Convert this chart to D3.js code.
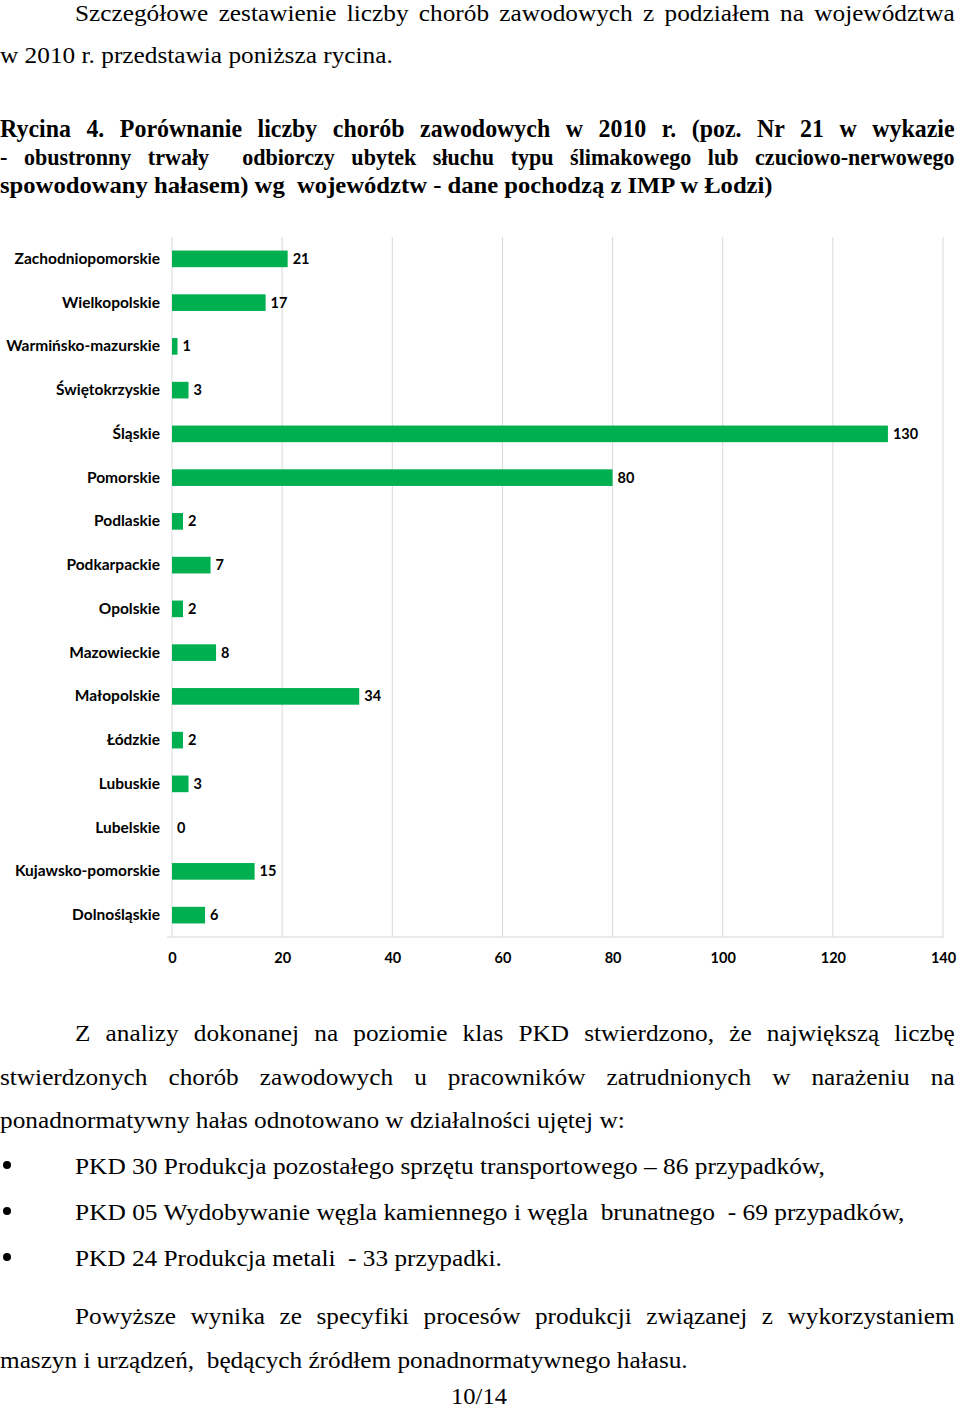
<!DOCTYPE html>
<html><head><meta charset="utf-8">
<script src="https://cdn.jsdelivr.net/npm/d3@7"></script>
<style>
html,body{margin:0;padding:0;background:#fff;}
svg{display:block;}
</style></head>
<body>
<svg id="page" width="960" height="1410"></svg>
<script>
// ---- data ----
const categories = ["Zachodniopomorskie","Wielkopolskie","Warmińsko-mazurskie","Świętokrzyskie","Śląskie","Pomorskie","Podlaskie","Podkarpackie","Opolskie","Mazowieckie","Małopolskie","Łódzkie","Lubuskie","Lubelskie","Kujawsko-pomorskie","Dolnośląskie"];
const values = [21,17,1,3,130,80,2,7,2,8,34,2,3,0,15,6];
const tickValues = [0,20,40,60,80,100,120,140];

const topLines = [
  {t:"Szczegółowe zestawienie liczby chorób zawodowych z podziałem na województwa", x:75, y:21, end:955, size:24, bold:false, just:true},
  {t:"w 2010 r. przedstawia poniższa rycina.", x:0, y:63, end:393, size:24, bold:false},
  {t:"Rycina 4. Porównanie liczby chorób zawodowych w 2010 r. (poz. Nr 21 w wykazie", x:0, y:137, end:955, size:26, bold:true, just:true, sx:0.92},
  {t:"- obustronny trwały  odbiorczy ubytek słuchu typu ślimakowego lub czuciowo-nerwowego", x:0, y:165, end:955, size:22.5, bold:true, just:true, sx:0.98},
  {t:"spowodowany hałasem) wg  województw - dane pochodzą z IMP w Łodzi)", x:0, y:193, end:773, size:24, bold:true}
];
const bottomLines = [
  {t:"Z analizy dokonanej na poziomie klas PKD stwierdzono, że największą liczbę", x:75, y:1041, end:955, size:24, just:true},
  {t:"stwierdzonych chorób zawodowych u pracowników zatrudnionych w narażeniu na", x:0, y:1085, end:955, size:24, just:true},
  {t:"ponadnormatywny hałas odnotowano w działalności ujętej w:", x:0, y:1128, end:625, size:24},
  {t:"PKD 30 Produkcja pozostałego sprzętu transportowego – 86 przypadków,", x:75, y:1174, end:825, size:24, bullet:true},
  {t:"PKD 05 Wydobywanie węgla kamiennego i węgla  brunatnego  - 69 przypadków,", x:75, y:1220, end:905, size:24, bullet:true},
  {t:"PKD 24 Produkcja metali  - 33 przypadki.", x:75, y:1266, end:502, size:24, bullet:true},
  {t:"Powyższe wynika ze specyfiki procesów produkcji związanej z wykorzystaniem", x:75, y:1324, end:955, size:24, just:true},
  {t:"maszyn i urządzeń,  będących źródłem ponadnormatywnego hałasu.", x:0, y:1368, end:688, size:24},
  {t:"10/14", x:451, y:1404, end:507, size:24}
];

const svg = d3.select("#page");
const serif = "'Liberation Serif','Times New Roman',serif";

function measure(d){
  const t = svg.append("text").attr("font-family",serif).attr("font-size",d.size)
    .attr("font-weight", d.bold ? "bold" : "normal").style("white-space","pre").text(d.t);
  const w = t.node().getComputedTextLength();
  t.remove();
  return w;
}
const regRef = bottomLines[2];
const sxReg = (regRef.end - regRef.x) / measure(regRef);

function drawLine(d){
  const g = svg.append("text")
    .attr("font-family",serif)
    .attr("font-size", d.size)
    .attr("font-weight", d.bold ? "bold" : "normal")
    .attr("fill","#000")
    .style("white-space","pre")
    .text(d.t);
  const w = g.node().getComputedTextLength();
  const target = d.end - d.x;
  let sx, ws = 0;
  if (d.just){
    sx = d.sx || sxReg;
    const n = (d.t.match(/ /g)||[]).length;
    ws = (target/sx - w)/n;
    if (ws < 0){ sx = target / w; ws = 0; }
  } else {
    sx = target / w;
  }
  g.attr("transform", `translate(${d.x},${d.y}) scale(${sx},1)`)
   .attr("word-spacing", ws);
  if (d.bullet){
    svg.append("circle").attr("cx",7).attr("cy",d.y-9).attr("r",4).attr("fill","#000");
  }
}
topLines.forEach(drawLine);
bottomLines.forEach(drawLine);

// ---- chart ----
const x0 = 172, x1 = 943, yTop = 237, yBot = 937;
const x = d3.scaleLinear().domain([0,140]).range([x0,x1]);
const y = d3.scaleBand().domain(categories).range([yTop,yBot]).paddingInner(0.62).paddingOuter(0.31);
const chartFont = "Lato, 'Open Sans', sans-serif";

const chart = svg.append("g");
// gridlines
chart.append("g").selectAll("line").data(tickValues.slice(1)).join("line")
  .attr("x1",d=>x(d)).attr("x2",d=>x(d)).attr("y1",yTop).attr("y2",yBot)
  .attr("stroke","#d9d9d9").attr("stroke-width",1);
// y axis line
chart.append("line").attr("x1",x0).attr("x2",x0).attr("y1",yTop).attr("y2",yBot)
  .attr("stroke","#d9d9d9");
// x axis
const xAxis = d3.axisBottom(x).tickValues(tickValues).tickSize(0).tickPadding(0).tickFormat(d3.format("d"));
const ax = chart.append("g").attr("transform",`translate(0,${yBot})`).call(xAxis);
ax.select(".domain").attr("stroke","#d9d9d9").attr("d",`M${x0-5},0H${x1+1}`);
ax.selectAll("text").attr("font-family",chartFont).attr("font-weight","bold")
  .attr("font-size",14.5).attr("fill","#000").attr("dy",0).attr("y",26);

// bars
chart.append("g").selectAll("rect").data(values).join("rect")
  .attr("x",x(0)).attr("y",(d,i)=>y(categories[i]))
  .attr("width",d=>x(d)-x(0)).attr("height",y.bandwidth())
  .attr("fill","#00b050");
// value labels
chart.append("g").selectAll("text").data(values).join("text")
  .attr("x",d=>x(d)+5).attr("y",(d,i)=>y(categories[i])+y.bandwidth()/2)
  .attr("dy","0.35em")
  .attr("font-family",chartFont).attr("font-weight","bold").attr("font-size",14.5)
  .attr("fill","#000").text(d=>d);
// category labels
const yAxis = d3.axisLeft(y).tickSize(0).tickPadding(12);
const ay = chart.append("g").attr("transform",`translate(${x0},0)`).call(yAxis);
ay.select(".domain").remove();
ay.selectAll("text").attr("font-family",chartFont).attr("font-weight","bold")
  .attr("font-size",15.5).attr("fill","#000");
</script>
</body></html>
